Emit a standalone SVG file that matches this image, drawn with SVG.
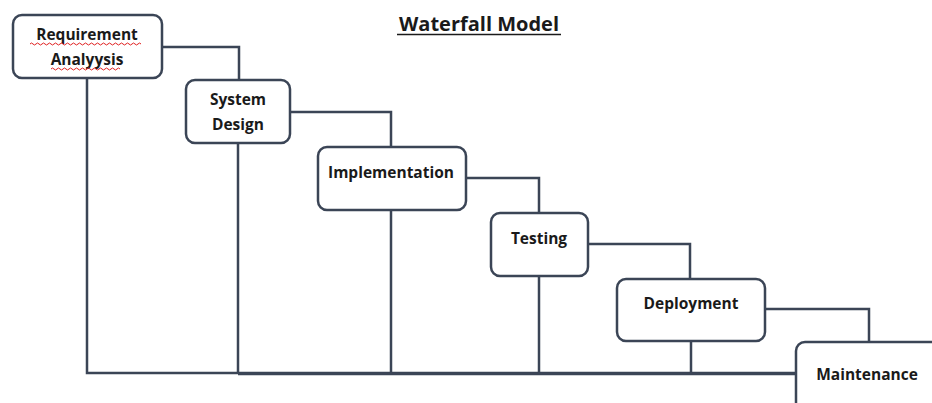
<svg xmlns="http://www.w3.org/2000/svg" width="932" height="403" viewBox="0 0 932 403">
  <style>
    .box { fill: #ffffff; stroke: #3b4556; stroke-width: 2.5; }
    .wire { fill: none; stroke: #3b4556; stroke-width: 2.5; }
    .label { font-family: "Open Sans", "Liberation Sans", sans-serif; font-weight: bold; font-size: 15.5px; fill: #1a1a1a; text-anchor: middle; }
    .title { font-family: "Open Sans", "Liberation Sans", sans-serif; font-weight: bold; font-size: 20px; fill: #1a1a1a; text-anchor: middle; }
    .squiggle { fill: none; stroke: #e02020; stroke-width: 1; }
  </style>
  <rect width="932" height="403" fill="#ffffff"/>

  <g id="title">
    <text class="title" x="479" y="31">Waterfall Model</text>
    <line x1="397" y1="34.5" x2="561" y2="34.5" stroke="#1a1a1a" stroke-width="1.5"/>
  </g>

  <g id="connectors">
    <!-- step links between phases -->
    <path class="wire" d="M162 47 H239 V80"/>
    <path class="wire" d="M290 112 H391 V147"/>
    <path class="wire" d="M466 178 H539 V213"/>
    <path class="wire" d="M588 244 H690 V279"/>
    <path class="wire" d="M765 309 H869 V342"/>
    <!-- drops to the common return line -->
    <path class="wire" d="M87 78 V373 H796"/>
    <path class="wire" d="M238 143 V373"/>
    <path class="wire" d="M391 210 V373"/>
    <path class="wire" d="M539 276 V373"/>
    <path class="wire" d="M691 341 V373"/>
    <line class="wire" x1="238" y1="374" x2="796" y2="374"/>
  </g>

  <g id="requirement-analysis">
    <rect class="box" x="13" y="15" width="149" height="63" rx="9"/>
    <text class="label" x="87" y="40">Requirement</text>
    <text class="label" x="87" y="65">Analyysis</text>
    <path class="squiggle" d="M30 44 q1.5 -2 3 0 t3 0 t3 0 t3 0 t3 0 t3 0 t3 0 t3 0 t3 0 t3 0 t3 0 t3 0 t3 0 t3 0 t3 0 t3 0 t3 0 t3 0 t3 0 t3 0 t3 0 t3 0 t3 0 t3 0 t3 0 t3 0 t3 0 t3 0 t3 0 t3 0 t3 0 t3 0 t3 0 t3 0 t3 0 t3 0 t3 0"/>
    <path class="squiggle" d="M51 69 q1.5 -2 3 0 t3 0 t3 0 t3 0 t3 0 t3 0 t3 0 t3 0 t3 0 t3 0 t3 0 t3 0 t3 0 t3 0 t3 0 t3 0 t3 0 t3 0 t3 0 t3 0 t3 0 t3 0 t3 0"/>
  </g>

  <g id="system-design">
    <rect class="box" x="186" y="80" width="104" height="63" rx="9"/>
    <text class="label" x="238" y="105">System</text>
    <text class="label" x="238" y="130">Design</text>
  </g>

  <g id="implementation">
    <rect class="box" x="318" y="147" width="148" height="63" rx="9"/>
    <text class="label" x="391" y="178">Implementation</text>
  </g>

  <g id="testing">
    <rect class="box" x="491" y="213" width="97" height="63" rx="9"/>
    <text class="label" x="539" y="244">Testing</text>
  </g>

  <g id="deployment">
    <rect class="box" x="617" y="279" width="148" height="62" rx="9"/>
    <text class="label" x="691" y="309">Deployment</text>
  </g>

  <g id="maintenance">
    <rect class="box" x="796" y="342" width="160" height="80" rx="9"/>
    <text class="label" x="867" y="380">Maintenance</text>
  </g>
</svg>
